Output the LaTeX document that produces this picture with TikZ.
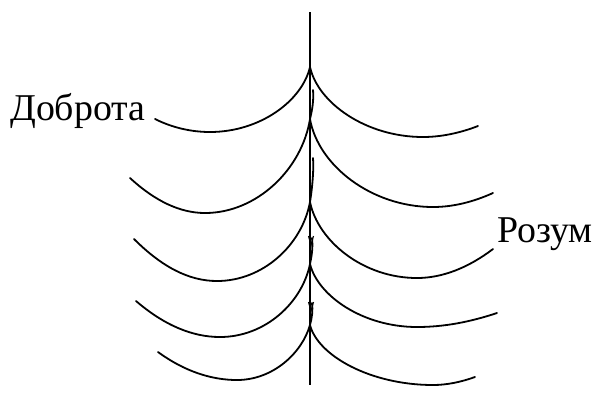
\documentclass[tikz,border=0pt]{standalone}
\usepackage{fontspec}
\setmainfont{Liberation Serif}
\begin{document}
\begin{tikzpicture}[x=1bp,y=-1bp,
  branch/.style={line width=1.8bp,line cap=round},
  stem/.style={line width=1.8bp},
  lbl/.style={inner sep=0pt,font=\fontsize{38}{40}\selectfont}]
\useasboundingbox (0,0) rectangle (595,394);
% stem
\coordinate (top) at (310,12);
\coordinate (bot) at (310,385);
\draw[stem] (top) -- (bot);
% cusps
\coordinate (c1) at (310,67);
\coordinate (c2) at (310,119);
\coordinate (c3) at (310,202);
\coordinate (c4) at (310,264);
\coordinate (c5) at (310,325);
% right branches
\draw[branch] (c1) .. controls (318,103) and (366,137) .. (423,137) .. controls (441,137) and (460,133) .. (478,126);
\draw[branch] (c2) .. controls (318,165) and (371,207) .. (433,207) .. controls (453,207) and (473,202) .. (493,193);
\draw[branch] (c3) .. controls (318,241) and (363,278) .. (417,278) .. controls (442,278) and (468,268) .. (493,249);
\draw[branch] (c4) .. controls (318,296) and (363,327) .. (417,327) .. controls (444,327) and (470,322) .. (497,313);
\draw[branch] (c5) .. controls (318,356) and (371,385) .. (433,385) .. controls (447,385) and (461,382) .. (475,377);
% left branches
\draw[branch] (c1) .. controls (302,101) and (260,132) .. (210,132) .. controls (192,132) and (173,128) .. (155,119);
\draw[branch] (c2) .. controls (302,169) and (257,213) .. (205,213) .. controls (180,213) and (155,201) .. (130,178);
\draw[branch] (c3) .. controls (302,245) and (263,281) .. (217,281) .. controls (189,281) and (162,267) .. (134,239);
\draw[branch] (c4) .. controls (302,303) and (265,337) .. (220,337) .. controls (192,337) and (164,325) .. (136,301);
\draw[branch] (c5) .. controls (302,353) and (273,380) .. (237,380) .. controls (211,380) and (184,371) .. (158,352);
% small hooks near the stem
\draw[branch] (c2) .. controls (312,111) and (314,100) .. (313,90);
\draw[branch] (c3) .. controls (312,190) and (314,170) .. (313,158);
\draw[branch] (c4) .. controls (312,255) and (313,246) .. (312,238);
\draw[branch] (c5) .. controls (312,318) and (313,310) .. (312,303);
\draw[line width=1.1bp] (308.5,236) -- (311,245) -- (313.5,236);
\draw[line width=1.1bp] (308.5,302) -- (311,311) -- (313.5,302);
% labels
\node[lbl,anchor=base west] (dob) at (10,120) {Доброта};
\node[lbl,anchor=base west] (roz) at (497,242) {Розум};
\end{tikzpicture}
\end{document}
